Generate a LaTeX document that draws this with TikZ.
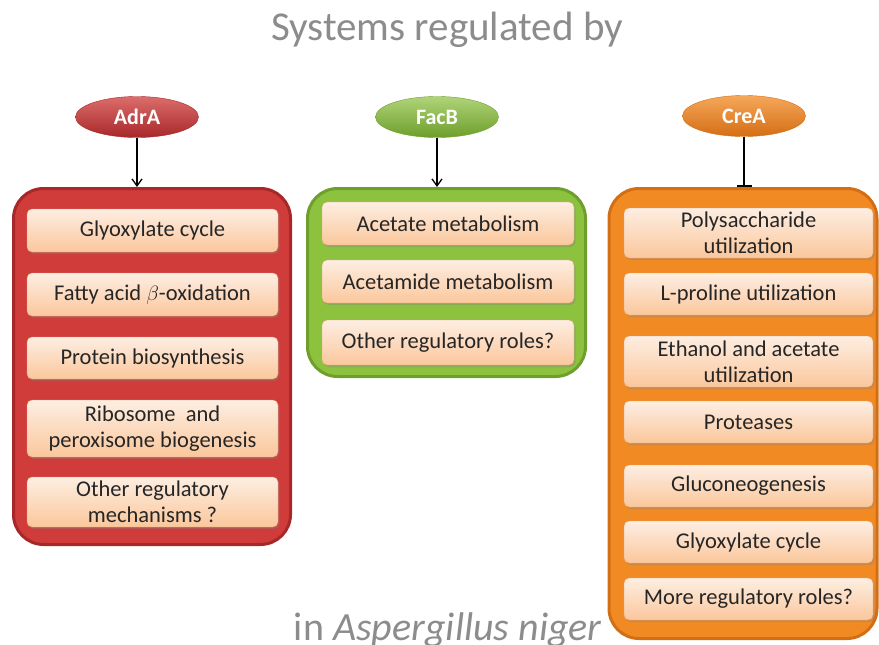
\documentclass[tikz,border=0pt]{standalone}
\usepackage{fontspec}
\setmainfont{Carlito}
\usetikzlibrary{arrows.meta,positioning,shapes.geometric,shadows}
\definecolor{titlegray}{HTML}{8C8C8C}
\definecolor{ink}{HTML}{262626}
\definecolor{redfill}{HTML}{D03C3A}
\definecolor{redline}{HTML}{A8282A}
\definecolor{greenfill}{HTML}{8DC23E}
\definecolor{greenline}{HTML}{6E9E2C}
\definecolor{orangefill}{HTML}{F28A24}
\definecolor{orangeline}{HTML}{D46E14}
\definecolor{peachtop}{HTML}{FDEEE2}
\definecolor{peachbot}{HTML}{FBC79C}
\definecolor{peachline}{HTML}{E2A271}
\begin{document}
\begin{tikzpicture}[x=1pt,y=-1pt,
  group/.style={rounded corners=30pt,line width=3pt,minimum width=#1},
  item/.style={draw=peachline,rounded corners=5pt,top color=peachtop,
    bottom color=peachbot,align=center,text=ink,inner sep=1pt,
    font=\fontsize{22.5}{26}\selectfont,
    drop shadow={shadow xshift=1.5pt,shadow yshift=-2pt,opacity=0.35}},
  reg/.style={ellipse,minimum width=123pt,minimum height=41pt,inner sep=0pt,
    text=white,font=\bfseries\fontsize{22}{24}\selectfont},
  act/.style={-{Straight Barb[length=7pt,width=10pt]},line width=1.3pt},
  inh/.style={-{Bar[width=15pt,line width=2pt]},line width=1.3pt}]
\useasboundingbox (0,0) rectangle (879,645);
\clip (0,0) rectangle (879,645);

\node[anchor=base,text=titlegray,font=\fontsize{41}{44}\selectfont] (title) at (447,41) {Systems regulated by};
\node[anchor=base,text=titlegray,font=\fontsize{40}{44}\selectfont] (species) at (448,640) {in \textit{Aspergillus niger}};

% regulators
\node[reg,top color=redfill!75!white,bottom color=redline,draw=redline] (adra) at (137,117) {AdrA};
\node[reg,top color=greenfill!70!white,bottom color=greenline,draw=greenline] (facb) at (437,117) {FacB};
\node[reg,top color=orangefill!75!white,bottom color=orangeline,draw=orangeline] (crea) at (744,116) {CreA};

% groups
\node[group=277pt,minimum height=356pt,fill=redfill,draw=redline] (adrbox) at (152,366.5) {};
\node[group=278pt,minimum height=188pt,fill=greenfill,draw=greenline] (facbox) at (446.5,282.5) {};
\node[group=268pt,minimum height=450pt,fill=orangefill,draw=orangeline] (crebox) at (743,413.5) {};

\draw[act] (adra.south) -- (adra.south |- adrbox.north);
\draw[act] (facb.south) -- (facb.south |- facbox.north);
\draw[inh] (crea.south) -- (crea.south |- crebox.north);

% AdrA targets
\node[item,minimum width=251pt,minimum height=43pt] (a1) at (152.5,230.5) {Glyoxylate cycle};
\node[item,minimum width=251pt,minimum height=43pt] (a2) at (152.5,294.5) {Fatty acid $\beta$-oxidation};
\node[item,minimum width=251pt,minimum height=42pt] (a3) at (152.5,358) {Protein biosynthesis};
\node[item,minimum width=251pt,minimum height=57pt] (a4) at (152.5,428.5) {Ribosome\ \ and\\peroxisome biogenesis};
\node[item,minimum width=251pt,minimum height=50pt] (a5) at (152.5,502) {Other regulatory\\mechanisms ?};

% FacB targets
\node[item,minimum width=252pt,minimum height=43pt] (f1) at (448,223.5) {Acetate metabolism};
\node[item,minimum width=252pt,minimum height=43pt] (f2) at (448,281.5) {Acetamide metabolism};
\node[item,minimum width=252pt,minimum height=45pt] (f3) at (448,342.5) {Other regulatory roles?};

% CreA targets
\node[item,minimum width=249pt,minimum height=50pt] (c1) at (748.5,233) {Polysaccharide\\utilization};
\node[item,minimum width=249pt,minimum height=42pt] (c2) at (748.5,294) {L-proline utilization};
\node[item,minimum width=249pt,minimum height=51pt] (c3) at (748.5,361.5) {Ethanol and acetate\\utilization};
\node[item,minimum width=249pt,minimum height=42pt] (c4) at (748.5,422) {Proteases};
\node[item,minimum width=249pt,minimum height=42pt] (c5) at (748.5,486) {Gluconeogenesis};
\node[item,minimum width=249pt,minimum height=42pt] (c6) at (748.5,542) {Glyoxylate cycle};
\node[item,minimum width=249pt,minimum height=42pt] (c7) at (748.5,599) {More regulatory roles?};
\end{tikzpicture}
\end{document}
